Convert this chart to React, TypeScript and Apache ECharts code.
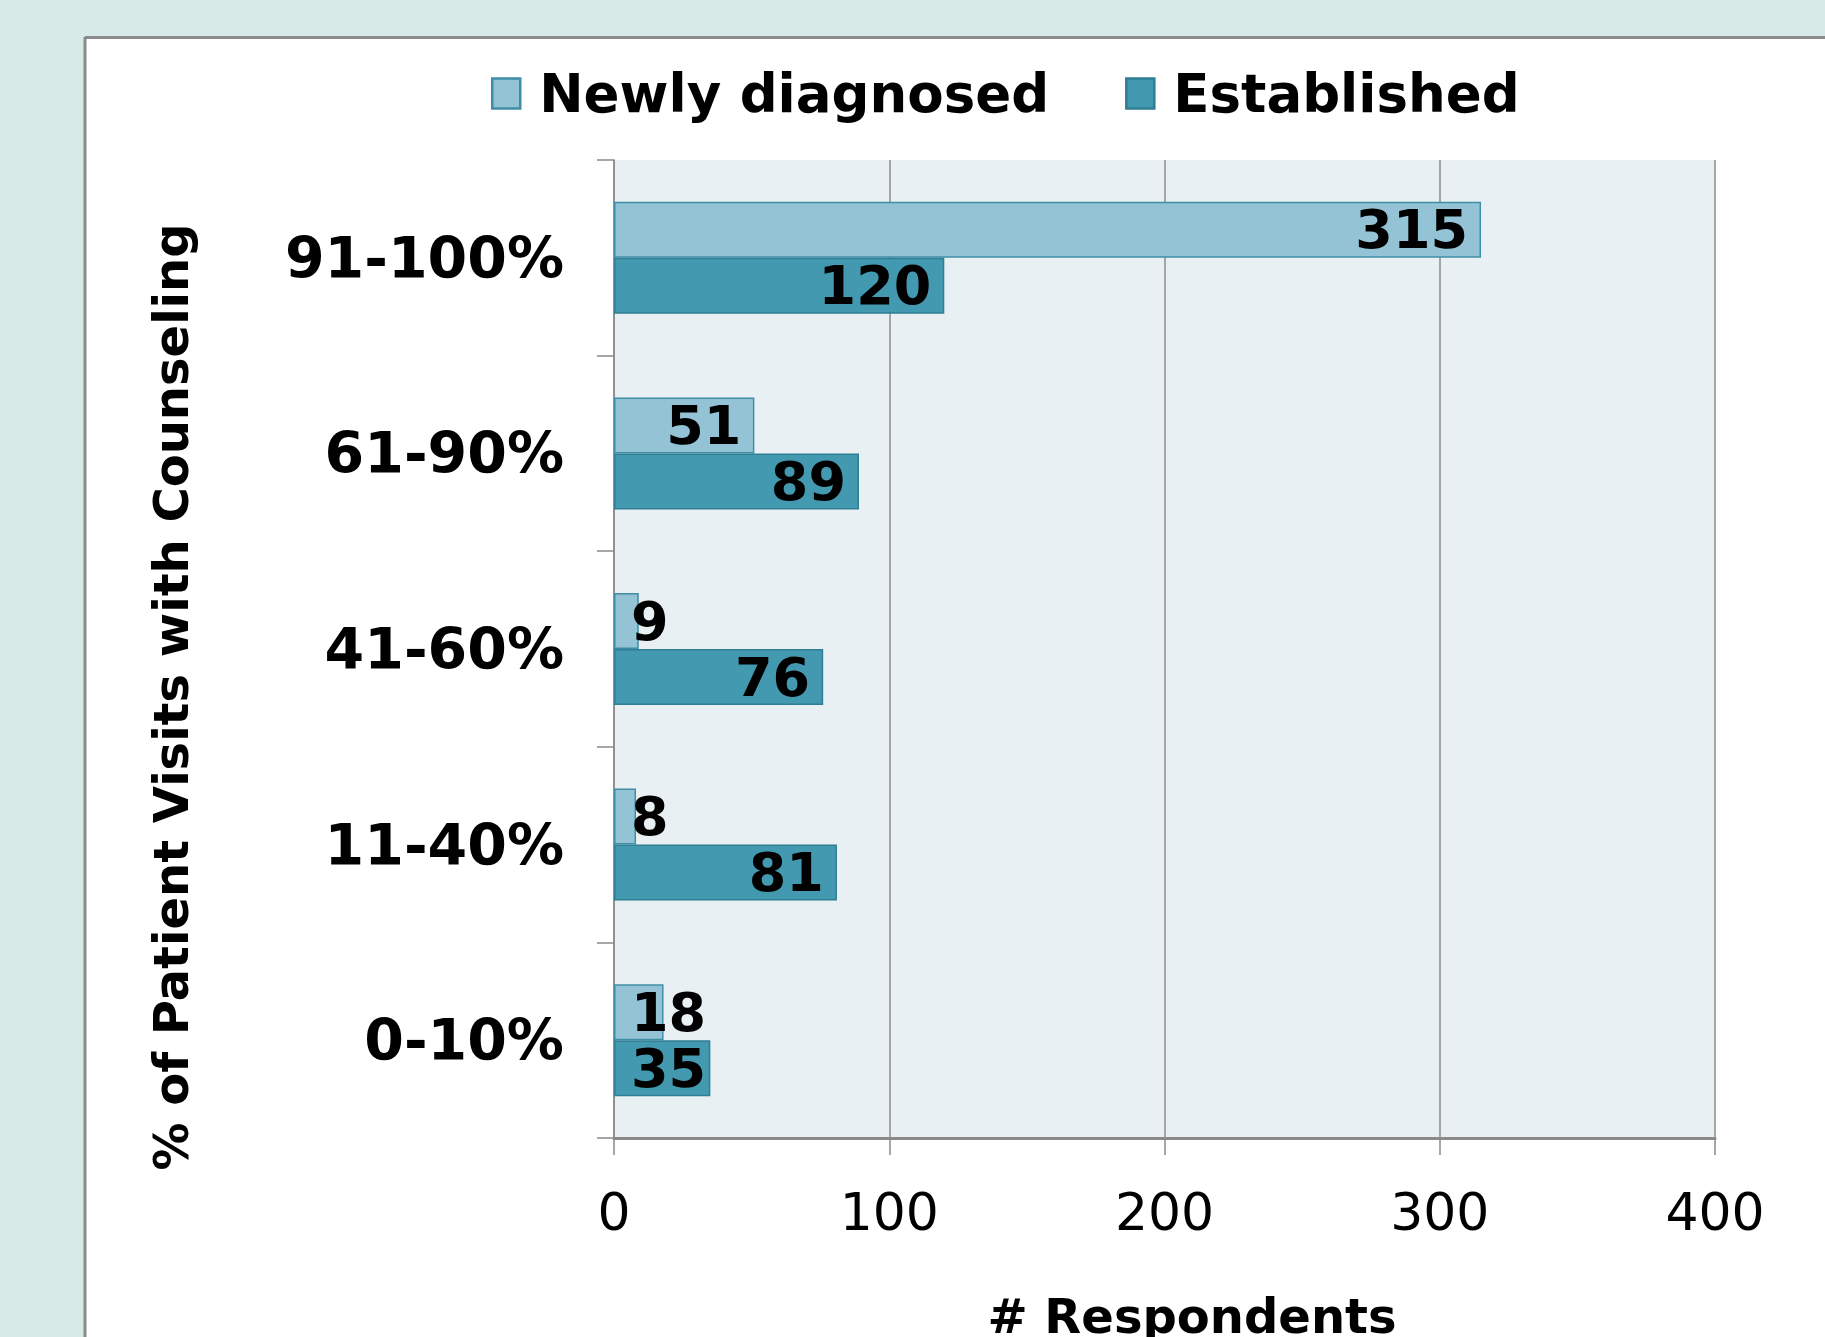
import React, { useEffect, useRef } from "react";
import * as echarts from "echarts";

const categories = ["91-100%", "61-90%", "41-60%", "11-40%", "0-10%"];
const newlyDiagnosed = [315, 51, 9, 8, 18];
const established = [120, 89, 76, 81, 35];
const seriesNames = ["Newly diagnosed", "Established"];
const xMin = 0;
const xMax = 400;
const xInterval = 100;
const xAxisTitle = "# Respondents";
const yAxisTitle = "% of Patient Visits with Counseling";

const W = 1825;
const H = 1337;
const GRID = { left: 614, right: 110, top: 160, bottom: 199 };
const FONT = "'DejaVu Sans', Verdana, sans-serif";
const LABEL_SIZE = 54;

const pxPerUnit = (W - GRID.left - GRID.right) / (xMax - xMin);

function withLabels(values: number[]) {
  return values.map((v) => {
    const textW = String(v).length * 0.7 * LABEL_SIZE;
    const fits = v * pxPerUnit >= textW + 24;
    return {
      value: v,
      label: {
        position: fits ? "insideRight" : "insideLeft",
        distance: fits ? 13 : 17,
      },
    };
  });
}

export default function App() {
  const ref = useRef<HTMLDivElement>(null);
  useEffect(() => {
    if (!ref.current) return;
    const chart = echarts.init(ref.current, undefined, { renderer: "svg" });
    const labelStyle = {
      show: true,
      color: "#000",
      fontFamily: FONT,
      fontWeight: "bold",
      fontSize: LABEL_SIZE,
      lineHeight: 48,
    };
    chart.setOption({
      animation: false,
      textStyle: { fontFamily: FONT },
      graphic: [
        { type: "rect", z: -20, shape: { x: 0, y: 0, width: W, height: H }, style: { fill: "#d7eae8" } },
        { type: "rect", z: -19, shape: { x: 85, y: 37, width: W - 85, height: H - 37 }, style: { fill: "#ffffff" } },
        { type: "line", z: -18, shape: { x1: 85, y1: 37.5, x2: W, y2: 37.5 }, style: { stroke: "#8a8a8a", lineWidth: 3 } },
        { type: "line", z: -18, shape: { x1: 85, y1: 37, x2: 85, y2: H }, style: { stroke: "#8a8a8a", lineWidth: 3 } },
        {
          type: "text",
          z: 10,
          x: 1192,
          y: 1316,
          style: {
            text: xAxisTitle,
            fill: "#000",
            font: `bold 48px ${FONT}`,
            align: "center",
            verticalAlign: "middle",
          },
        },
        {
          type: "text",
          z: 10,
          x: 171,
          y: 697,
          rotation: Math.PI / 2,
          style: {
            text: yAxisTitle,
            fill: "#000",
            font: `bold 48px ${FONT}`,
            align: "center",
            verticalAlign: "middle",
          },
        },
      ],
      legend: {
        data: seriesNames,
        left: 486,
        top: 62,
        itemWidth: 28,
        itemHeight: 30,
        itemGap: 76,
        icon: "rect",
        itemStyle: { borderWidth: 2.5 },
        textStyle: {
          color: "#000",
          fontFamily: FONT,
          fontWeight: "bold",
          fontSize: 53,
          padding: [0, 0, 0, 14],
        },
      },
      grid: {
        ...GRID,
        show: true,
        backgroundColor: "#e8f0f3",
        borderWidth: 0,
        containLabel: false,
      },
      xAxis: {
        type: "value",
        min: xMin,
        max: xMax,
        interval: xInterval,
        axisLine: { show: true, lineStyle: { color: "#8a8a8a", width: 3 } },
        axisTick: { show: true, length: 17, lineStyle: { color: "#8a8a8a", width: 1.5 } },
        splitLine: { show: true, lineStyle: { color: "#8c8c8c", width: 1.5 } },
        axisLabel: {
          color: "#000",
          fontFamily: FONT,
          fontSize: 52,
          margin: 48,
        },
      },
      yAxis: {
        type: "category",
        data: categories,
        inverse: true,
        axisLine: { show: true, lineStyle: { color: "#8a8a8a", width: 1.5 } },
        axisTick: { show: true, length: 17, lineStyle: { color: "#8a8a8a", width: 1.5 } },
        axisLabel: {
          color: "#000",
          fontFamily: FONT,
          fontWeight: "bold",
          fontSize: 57,
          margin: 50,
        },
      },
      series: [
        {
          name: seriesNames[0],
          type: "bar",
          data: withLabels(newlyDiagnosed),
          barWidth: 56,
          barGap: "0%",
          itemStyle: { color: "#93c3d5", borderColor: "#3f8ea6", borderWidth: 1.5 },
          label: labelStyle,
        },
        {
          name: seriesNames[1],
          type: "bar",
          data: withLabels(established),
          barWidth: 56,
          barGap: "0%",
          itemStyle: { color: "#4399b0", borderColor: "#2f7e94", borderWidth: 1.5 },
          label: labelStyle,
        },
      ],
    });
    return () => chart.dispose();
  }, []);
  return (
    <div
      ref={ref}
      style={{ position: "fixed", left: 0, top: 0, width: W, height: H }}
    />
  );
}
